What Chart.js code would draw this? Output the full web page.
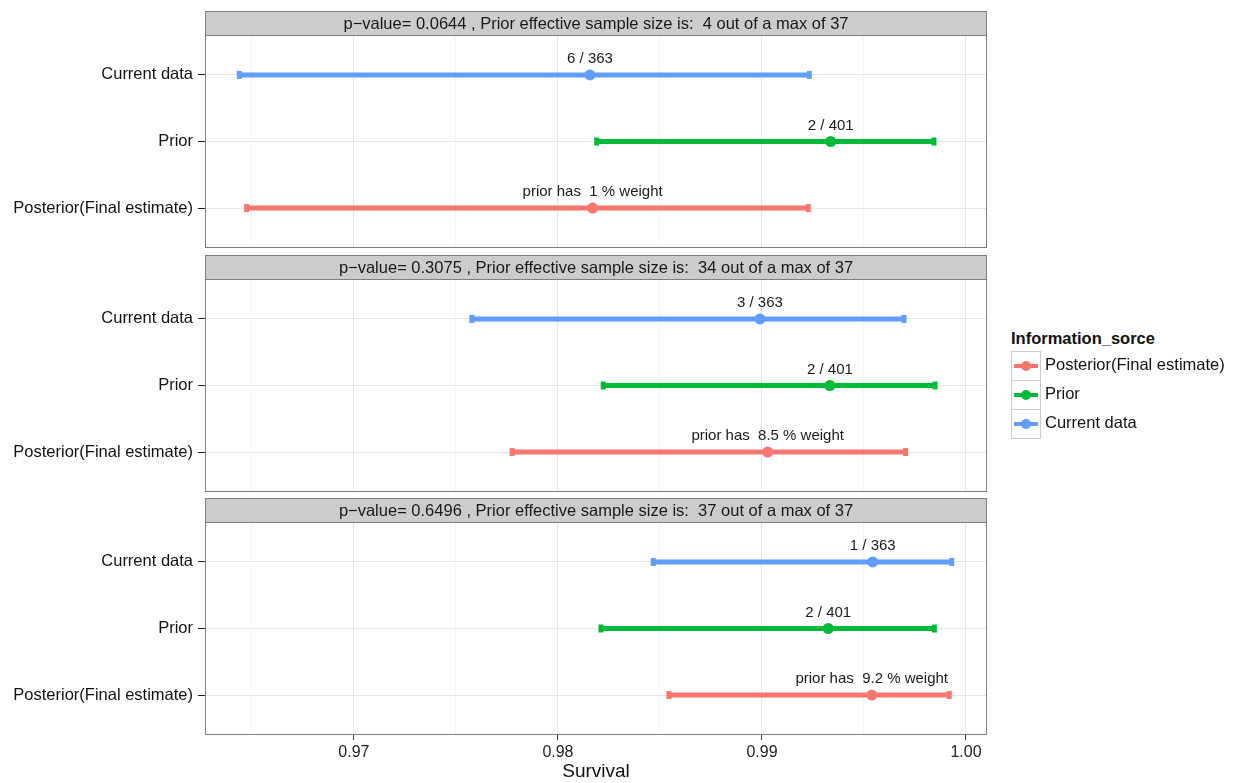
<!DOCTYPE html>
<html>
<head>
<meta charset="utf-8">
<script src="https://cdn.jsdelivr.net/npm/chart.js@4/dist/chart.umd.min.js"></script>
<style>
  body { margin: 0; background: #fff; font-family: "Liberation Sans", Arial, sans-serif; }
  #wrap { position: relative; width: 1235px; height: 783px; overflow: hidden; }
  canvas { position: absolute; left: 0; }
  #legend { position: absolute; left: 1011px; top: 328px; color: #111; }
  #legend .title { font-weight: bold; font-size: 16.5px; height: 23px; line-height: 20px; }
  #legend .row { position: relative; height: 29px; }
  #legend .key { position: absolute; left: 0; top: 0; width: 28px; height: 28px; border: 1px solid #ccc; background: #fff; }
  #legend .key .ln { position: absolute; left: 2px; top: 12px; width: 24px; height: 4px; }
  #legend .key .dot { position: absolute; left: 9px; top: 9px; width: 10px; height: 10px; border-radius: 50%; }
  #legend .lab { position: absolute; left: 34px; top: 4px; font-size: 16.5px; line-height: 19px; white-space: nowrap; }
</style>
</head>
<body>
<div id="wrap">
  <canvas id="p0" width="1000" height="255" style="top:11px"></canvas>
  <canvas id="p1" width="1000" height="255" style="top:255px"></canvas>
  <canvas id="p2" width="1000" height="285" style="top:498px"></canvas>
  <div id="legend"></div>
</div>
<script>
// rows, bottom to top: 1 = Posterior, 2 = Prior, 3 = Current data
const sources = ['Posterior(Final estimate)', 'Prior', 'Current data'];
const legendOrder = ['Posterior(Final estimate)', 'Prior', 'Current data'];
const colors = ['#F8766D', '#00BA38', '#619CFF'];

const pValues = ['0.0644', '0.3075', '0.6496'];
const priorEss = [4, 34, 37];
const maxEss = 37;

// per panel, order: Posterior, Prior, Current data
const lows = [
  [0.96474, 0.98190, 0.96438],
  [0.97775, 0.98222, 0.97578],
  [0.98544, 0.98211, 0.98467]
];
const estimates = [
  [0.98170, 0.99337, 0.98157],
  [0.99028, 0.99333, 0.98990],
  [0.99538, 0.99325, 0.99543]
];
const highs = [
  [0.99227, 0.99843, 0.99232],
  [0.99704, 0.99848, 0.99696],
  [0.99918, 0.99845, 0.99930]
];
const pointLabels = [
  ['prior has  1 % weight', '2 / 401', '6 / 363'],
  ['prior has  8.5 % weight', '2 / 401', '3 / 363'],
  ['prior has  9.2 % weight', '2 / 401', '1 / 363']
];

const xTicks = [0.965, 0.97, 0.975, 0.98, 0.985, 0.99, 0.995, 1.00];
const xTickLabels = ['', '0.97', '', '0.98', '', '0.99', '', '1.00'];
const xMin = 0.9627, xMax = 1.00103;

const FONT = '"Liberation Sans", Arial, sans-serif';
const STRIP_H = 24;

const stripPlugin = {
  id: 'strip',
  afterDraw(chart) {
    const { ctx, chartArea: a } = chart;
    const txt = chart.options.plugins.strip.text;
    ctx.save();
    ctx.fillStyle = '#CCCCCC';
    ctx.fillRect(a.left, a.top - STRIP_H, a.right - a.left, STRIP_H);
    ctx.strokeStyle = '#7F7F7F';
    ctx.lineWidth = 1;
    ctx.strokeRect(Math.round(a.left) + 0.5, Math.round(a.top - STRIP_H) + 0.5, Math.round(a.right - a.left) - 1, STRIP_H);
    ctx.strokeRect(Math.round(a.left) + 0.5, Math.round(a.top) + 0.5, Math.round(a.right - a.left) - 1, Math.round(a.bottom - a.top) - 1);
    ctx.fillStyle = '#1A1A1A';
    ctx.font = '16.5px ' + FONT;
    ctx.textAlign = 'center';
    ctx.textBaseline = 'middle';
    ctx.fillText(txt, (a.left + a.right) / 2, a.top - STRIP_H / 2 + 1);
    ctx.restore();
  }
};

const labelPlugin = {
  id: 'ptlabels',
  afterDatasetsDraw(chart) {
    const { ctx } = chart;
    ctx.save();
    ctx.fillStyle = '#1A1A1A';
    ctx.font = '15px ' + FONT;
    ctx.textAlign = 'center';
    ctx.textBaseline = 'middle';
    chart.data.datasets.forEach((ds, i) => {
      if (!ds.labelText) return;
      const pt = chart.getDatasetMeta(i).data[0];
      ctx.fillText(ds.labelText, pt.x, pt.y - 16);
    });
    ctx.restore();
  }
};

function makePanel(k) {
  const last = k === 2;
  const datasets = [];
  sources.forEach((s, i) => {
    datasets.push({
      type: 'line',
      data: [{ x: lows[k][i], y: i + 1 }, { x: highs[k][i], y: i + 1 }],
      borderColor: colors[i],
      borderWidth: 5,
      borderCapStyle: 'butt',
      pointStyle: 'line',
      pointRotation: 90,
      pointRadius: 4,
      pointBorderWidth: 5,
      pointBorderColor: colors[i],
      pointBackgroundColor: colors[i]
    });
  });
  sources.forEach((s, i) => {
    datasets.push({
      type: 'scatter',
      data: [{ x: estimates[k][i], y: i + 1 }],
      backgroundColor: colors[i],
      borderWidth: 0,
      pointRadius: 5.5,
      labelText: pointLabels[k][i]
    });
  });

  new Chart(document.getElementById('p' + k), {
    type: 'scatter',
    data: { datasets },
    plugins: [stripPlugin, labelPlugin],
    options: {
      responsive: false,
      animation: false,
      events: [],
      layout: { padding: { top: STRIP_H, bottom: 0, left: 0, right: 13 } },
      plugins: {
        legend: { display: false },
        tooltip: { enabled: false },
        strip: { text: 'p\u2212value= ' + pValues[k] + ' , Prior effective sample size is:  ' + priorEss[k] + ' out of a max of ' + maxEss }
      },
      scales: {
        x: {
          type: 'linear',
          min: xMin,
          max: xMax,
          afterBuildTicks: sc => { sc.ticks = xTicks.map(v => ({ value: v })); },
          afterFit: sc => { sc.height = last ? 48 : 18; },
          border: { display: false },
          grid: {
            color: c => (c.index % 2 === 1 ? '#E6E6E6' : '#F3F3F3'),
            lineWidth: 1,
            drawTicks: last,
            tickLength: 5,
            tickColor: c => (c.index % 2 === 1 ? '#333' : 'rgba(0,0,0,0)')
          },
          ticks: {
            display: last,
            autoSkip: false,
            maxRotation: 0,
            padding: 3,
            color: '#222',
            font: { family: FONT, size: 16 },
            callback: (v, i) => xTickLabels[i]
          },
          title: {
            display: last,
            text: 'Survival',
            color: '#111',
            font: { family: FONT, size: 19 },
            padding: { top: 0, bottom: 0 }
          }
        },
        y: {
          type: 'linear',
          min: 0.4,
          max: 3.6,
          afterBuildTicks: sc => { sc.ticks = [1, 2, 3].map(v => ({ value: v })); },
          afterFit: sc => { sc.width = 205; },
          border: { display: false },
          grid: { color: '#E6E6E6', lineWidth: 1, tickLength: 7, tickColor: '#222' },
          ticks: {
            padding: 5,
            color: '#111',
            font: { family: FONT, size: 16.5 },
            callback: v => sources[v - 1]
          }
        }
      }
    }
  });
}

[0, 1, 2].forEach(makePanel);

const legend = document.getElementById('legend');
let html = '<div class="title">Information_sorce</div>';
legendOrder.forEach(name => {
  const c = colors[sources.indexOf(name)];
  html += '<div class="row"><div class="key"><div class="ln" style="background:' + c + '"></div>' +
          '<div class="dot" style="background:' + c + '"></div></div><div class="lab">' + name + '</div></div>';
});
legend.innerHTML = html;
</script>
</body>
</html>
